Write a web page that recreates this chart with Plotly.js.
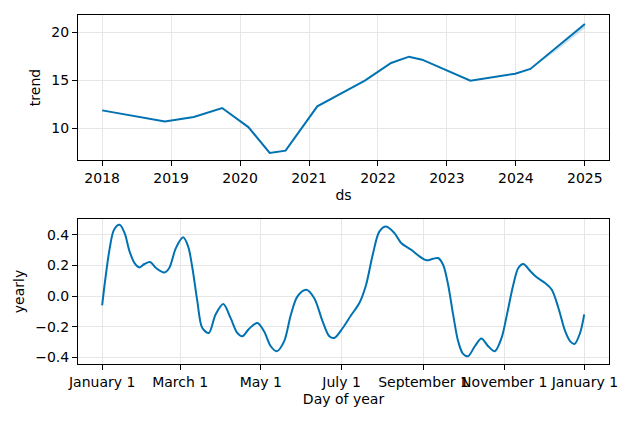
<!DOCTYPE html>
<html>
<head>
<meta charset="utf-8">
<script src="https://cdn.plot.ly/plotly-3.0.1.min.js"></script>
<style>html,body{margin:0;padding:0;background:#fff;}#chart{width:634px;height:422px;}</style>
</head>
<body>
<div id="chart"></div>
<script>
// Trend component (decimal year, value)
const trendX = [2018.0, 2018.91, 2019.33, 2019.74, 2020.12, 2020.43, 2020.66, 2021.12, 2021.81, 2022.19, 2022.45, 2022.64, 2023.34, 2023.99, 2024.21, 2025.0];
const trendY = [11.84, 10.69, 11.15, 12.08, 10.10, 7.40, 7.64, 12.26, 14.93, 16.77, 17.43, 17.12, 14.93, 15.66, 16.15, 20.83];
// Uncertainty band near the end of the trend
const bandX = [2024.21, 2024.6, 2025.0];
const bandLower = [16.15, 18.1, 20.40];
const bandUpper = [16.15, 18.3, 20.95];
const trendTicks = [2018, 2019, 2020, 2021, 2022, 2023, 2024, 2025];
const trendYTicks = [10, 15, 20];

// Yearly seasonality (day of year, value)
const dayX = [0, 2.5, 5.75, 9, 13.25, 17, 20.75, 24.5, 28.25, 32, 36.25, 40.75, 47, 50.75, 55.75, 61.25, 65, 68.25, 72, 75.75, 80.7,
  85.7, 91.6, 97.1, 102.2, 106, 111, 117.4, 122.4, 127.5, 132, 137.6, 142.7, 147.7, 154.4,
  160.3, 166.7, 171.8, 175.5, 181.9, 188.2, 194.5, 199.6, 204.6, 209.7, 214.7, 221, 226.1, 233.7,
  240, 245.1, 250.2, 254, 257.8, 261.6, 265.4, 269.2, 272.9, 276.7, 281.8, 286.8, 291.9, 296.9, 302, 305.8, 310.9,
  314.7, 318.5, 323.5, 328.6, 334.9, 340, 345, 350.1, 353.9, 357.2, 361.4, 364.5];
const yearly = [-0.061, 0.117, 0.313, 0.433, 0.465, 0.411, 0.291, 0.215, 0.187, 0.209, 0.222, 0.183, 0.154, 0.183, 0.313, 0.383, 0.324, 0.183, -0.035, -0.209, -0.241,
  -0.122, -0.052, -0.143, -0.241, -0.263, -0.215, -0.176, -0.230, -0.328, -0.361, -0.296, -0.122, -0.002, 0.041,
  -0.013, -0.165, -0.263, -0.274, -0.209, -0.126, -0.046, 0.074, 0.270, 0.422, 0.454, 0.411, 0.346, 0.302,
  0.259, 0.233, 0.243, 0.248, 0.204, 0.074, -0.122, -0.296, -0.378, -0.393, -0.328, -0.278, -0.328, -0.361, -0.274, -0.133, 0.074,
  0.183, 0.209, 0.165, 0.122, 0.085, 0.041, -0.078, -0.230, -0.296, -0.313, -0.241, -0.12];
const monthTickDays = [0, 59, 120, 181, 243, 304, 365];
const monthTickText = ['January 1', 'March 1', 'May 1', 'July 1', 'September 1', 'November 1', 'January 1'];
const yearlyTicks = [-0.4, -0.2, 0.0, 0.2, 0.4];

const lineColor = '#0072B2';
const gridColor = '#e6e6e6';
const font = {family: 'DejaVu Sans', size: 14, color: '#000'};

const traces = [
  {x: bandX, y: bandLower, mode: 'lines', line: {width: 0, color: lineColor}, hoverinfo: 'skip', showlegend: false, xaxis: 'x', yaxis: 'y'},
  {x: bandX, y: bandUpper, mode: 'lines', line: {width: 0, color: lineColor}, fill: 'tonexty', fillcolor: 'rgba(0,114,178,0.2)', hoverinfo: 'skip', showlegend: false, xaxis: 'x', yaxis: 'y'},
  {x: trendX, y: trendY, mode: 'lines', line: {color: lineColor, width: 2}, showlegend: false, xaxis: 'x', yaxis: 'y'},
  {x: dayX, y: yearly, mode: 'lines', line: {color: lineColor, width: 2, shape: 'spline', smoothing: 0.9}, showlegend: false, xaxis: 'x2', yaxis: 'y2'}
];

const axisCommon = {
  showline: true, mirror: true, linecolor: '#000', linewidth: 1,
  ticks: 'outside', ticklen: 5, tickwidth: 1, tickcolor: '#000',
  showgrid: true, gridcolor: gridColor, gridwidth: 1, zeroline: false,
  tickfont: font, tickangle: 0, automargin: false
};

const layout = {
  width: 634, height: 422,
  margin: {l: 78, r: 25, t: 15, b: 58},
  paper_bgcolor: '#fff', plot_bgcolor: '#fff',
  font: font,
  showlegend: false,
  xaxis: Object.assign({}, axisCommon, {domain: [0, 1], anchor: 'y', range: [2017.65, 2025.35], tickmode: 'array', tickvals: trendTicks, ticktext: trendTicks.map(String), title: {text: 'ds', font: font, standoff: 5}}),
  yaxis: Object.assign({}, axisCommon, {domain: [0.5845, 1], anchor: 'x', range: [6.67, 21.77], tickmode: 'array', tickvals: trendYTicks, ticktext: trendYTicks.map(String), title: {text: 'trend', font: font, standoff: 7}}),
  xaxis2: Object.assign({}, axisCommon, {domain: [0, 1], anchor: 'y2', range: [-18.25, 383.25], tickmode: 'array', tickvals: monthTickDays, ticktext: monthTickText, title: {text: 'Day of year', font: font, standoff: 5}}),
  yaxis2: Object.assign({}, axisCommon, {domain: [0, 0.4155], anchor: 'x2', range: [-0.444, 0.503], tickmode: 'array', tickvals: yearlyTicks, ticktext: yearlyTicks.map(v => v.toFixed(1).replace('-', '\u2212')), title: {text: 'yearly', font: font, standoff: 7}})
};

Plotly.newPlot('chart', traces, layout, {staticPlot: true, displayModeBar: false});
</script>
</body>
</html>
